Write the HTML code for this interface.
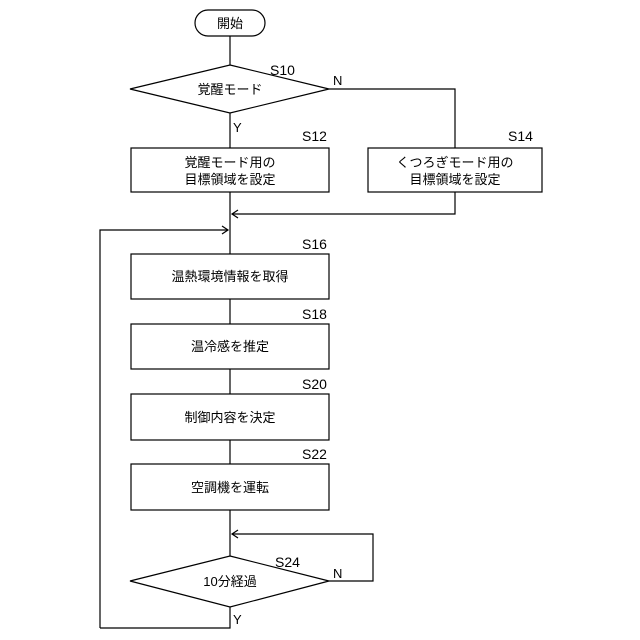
<!DOCTYPE html>
<html><head><meta charset="utf-8"><style>
html,body{margin:0;padding:0;background:#fff;}
</style></head><body>
<svg width="640" height="640" xmlns="http://www.w3.org/2000/svg" style="display:block">
<g fill="none" stroke="#000" stroke-width="1.2">
<rect x="195" y="10" width="70" height="26" rx="13"/>
<line x1="230" y1="36" x2="230" y2="65"/>
<polygon points="230,65 329,89 230,113 130,89"/>
<line x1="230" y1="113" x2="230" y2="148"/>
<polyline points="329,89 455,89 455,148"/>
<rect x="131" y="148" width="198" height="44"/>
<rect x="368" y="148" width="174" height="44"/>
<line x1="230" y1="192" x2="230" y2="254"/>
<polyline points="455,192 455,214 232,214"/>
<polyline points="238,210 232,214 238,218"/>
<polyline points="230,556 230,510"/>
<polyline points="100,628 230,628 230,607"/>
<polyline points="100,628 100,230 228,230"/>
<polyline points="222,226 228,230 222,234"/>
<rect x="131" y="254" width="198" height="45"/>
<line x1="230" y1="299" x2="230" y2="324"/>
<rect x="131" y="324" width="198" height="45"/>
<line x1="230" y1="369" x2="230" y2="394"/>
<rect x="131" y="394" width="198" height="46"/>
<line x1="230" y1="440" x2="230" y2="464"/>
<rect x="131" y="464" width="198" height="46"/>
<polygon points="230,556 329,581 230,607 130,581"/>
<polyline points="329,581 373,581 373,534 232,534"/>
<polyline points="238,530 232,534 238,538"/>
</g>
<g font-family="Liberation Sans, Noto Sans CJK JP, sans-serif" font-size="13" fill="#000" text-anchor="middle">
<text x="230" y="28">開始</text>
<text x="230" y="94">覚醒モード</text>
<text x="230" y="167">覚醒モード用の</text>
<text x="230" y="184">目標領域を設定</text>
<text x="455" y="167">くつろぎモード用の</text>
<text x="455" y="184">目標領域を設定</text>
<text x="230" y="281">温熱環境情報を取得</text>
<text x="230" y="351">温冷感を推定</text>
<text x="230" y="422">制御内容を決定</text>
<text x="230" y="492">空調機を運転</text>
<text x="230" y="586">10分経過</text>
</g>
<g font-family="Liberation Sans, sans-serif" font-size="14" fill="#000">
<text x="270" y="75">S10</text>
<text x="333" y="85" font-size="13">N</text>
<text x="233" y="132" font-size="13">Y</text>
<text x="302" y="141">S12</text>
<text x="508" y="141">S14</text>
<text x="302" y="249">S16</text>
<text x="302" y="319">S18</text>
<text x="302" y="389">S20</text>
<text x="302" y="459">S22</text>
<text x="275" y="567">S24</text>
<text x="333" y="578" font-size="13">N</text>
<text x="233" y="624" font-size="13">Y</text>
</g>
</svg>
</body></html>
